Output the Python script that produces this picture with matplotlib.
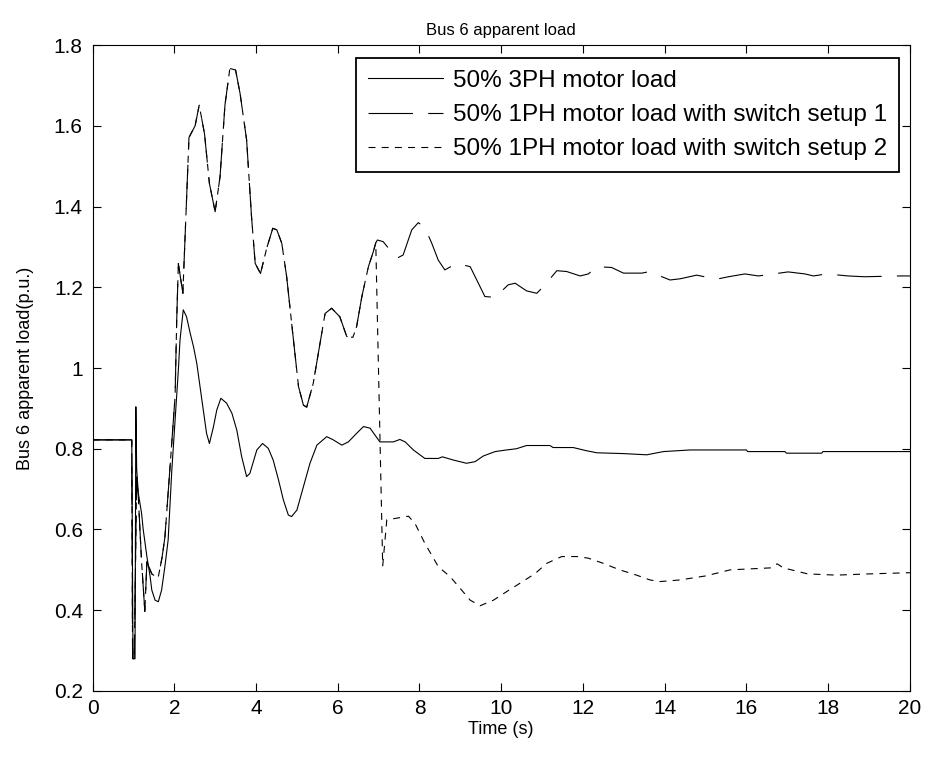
import matplotlib
matplotlib.use("Agg")
import matplotlib.pyplot as plt

# 50% 3PH motor load (solid)
t_3ph = [0, 0.96, 0.99, 1.04, 1.06, 1.08, 1.12, 1.20, 1.24, 1.33, 1.41, 1.45, 1.53, 1.61,
         1.69, 1.77, 1.85, 1.94, 2.10, 2.14, 2.22, 2.30, 2.39, 2.47, 2.55, 2.63, 2.71,
         2.79, 2.86, 2.96, 3.04, 3.14, 3.28, 3.41, 3.53, 3.65, 3.77, 3.85, 4.02, 4.16,
         4.30, 4.42, 4.55, 4.67, 4.79, 4.87, 5.00, 5.16, 5.32, 5.49, 5.73, 5.89, 6.10,
         6.26, 6.46, 6.63, 6.79, 7.03, 7.36, 7.52, 7.65, 7.85, 8.13, 8.46, 8.56, 8.83,
         9.15, 9.36, 9.56, 9.85, 10.13, 10.37, 10.62, 11.19, 11.27, 11.76, 12.09, 12.34,
         12.99, 13.56, 13.97, 14.62, 16.00, 16.03, 16.94, 16.98, 17.84, 17.87, 20]
v_3ph = [0.822, 0.822, 0.28, 0.28, 0.904, 0.75, 0.69, 0.64, 0.60, 0.533, 0.483, 0.45,
         0.425, 0.421, 0.45, 0.508, 0.574, 0.747, 0.995, 1.069, 1.144, 1.127, 1.086,
         1.053, 1.012, 0.954, 0.896, 0.838, 0.813, 0.855, 0.896, 0.925, 0.913, 0.888,
         0.846, 0.780, 0.731, 0.739, 0.797, 0.813, 0.801, 0.772, 0.723, 0.673, 0.636,
         0.632, 0.648, 0.706, 0.764, 0.809, 0.830, 0.822, 0.809, 0.817, 0.838, 0.855,
         0.851, 0.817, 0.817, 0.823, 0.817, 0.797, 0.776, 0.776, 0.780, 0.772, 0.764,
         0.768, 0.782, 0.793, 0.797, 0.800, 0.808, 0.808, 0.803, 0.803, 0.795, 0.790,
         0.788, 0.785, 0.793, 0.797, 0.797, 0.793, 0.793, 0.789, 0.789, 0.793, 0.793]

# both 1PH cases are identical until the switch acts near t = 6.9 s
t_common = [0, 0.96, 0.98, 1.02, 1.08, 1.12, 1.20, 1.28, 1.33, 1.37, 1.45, 1.55, 1.61,
            1.70, 1.77, 1.90, 2.02, 2.06, 2.10, 2.21, 2.36, 2.51, 2.61, 2.74, 2.86, 3.00,
            3.12, 3.24, 3.36, 3.50, 3.61, 3.77, 3.89, 3.98, 4.11, 4.26, 4.41, 4.51, 4.63,
            4.75, 4.89, 5.04, 5.16, 5.24, 5.40, 5.69, 5.85, 6.05, 6.22, 6.37, 6.46, 6.59,
            6.75, 6.87, 6.93]
v_common = [0.822, 0.822, 0.28, 0.28, 0.73, 0.68, 0.52, 0.397, 0.52, 0.51, 0.49, 0.483,
            0.483, 0.53, 0.58, 0.76, 0.93, 1.12, 1.259, 1.185, 1.571, 1.60, 1.651, 1.58,
            1.457, 1.387, 1.474, 1.651, 1.742, 1.738, 1.680, 1.565, 1.375, 1.259, 1.234,
            1.296, 1.346, 1.342, 1.309, 1.226, 1.094, 0.954, 0.908, 0.903, 0.962, 1.135,
            1.148, 1.127, 1.078, 1.076, 1.102, 1.177, 1.251, 1.288, 1.31]

# setup 1 after the switch instant
t_s1_tail = [6.97, 7.11, 7.28, 7.45, 7.60, 7.81, 7.97, 8.13, 8.30, 8.46, 8.62, 8.91, 9.24,
             9.44, 9.60, 9.85, 10.17, 10.34, 10.62, 10.87, 11.07, 11.36, 11.60, 11.93,
             12.13, 12.34, 12.70, 12.99, 13.44, 13.64, 13.76, 14.13, 14.38, 14.78, 15.27,
             15.56, 15.96, 16.29, 16.66, 17.02, 17.43, 17.64, 17.96, 18.49, 18.89, 19.75, 20]
v_s1_tail = [1.317, 1.313, 1.292, 1.272, 1.28, 1.342, 1.360, 1.348, 1.309, 1.267, 1.243,
             1.259, 1.251, 1.210, 1.177, 1.175, 1.206, 1.210, 1.191, 1.185, 1.206, 1.241,
             1.239, 1.228, 1.233, 1.251, 1.249, 1.235, 1.235, 1.239, 1.233, 1.218, 1.221,
             1.230, 1.220, 1.226, 1.233, 1.228, 1.233, 1.238, 1.233, 1.228, 1.233, 1.228,
             1.226, 1.228, 1.228]

# setup 2 after the switch instant
t_s2_tail = [7.10, 7.20, 7.44, 7.73, 7.89, 8.13, 8.46, 8.75, 9.03, 9.24, 9.48, 9.81, 10.13,
             10.46, 10.83, 11.11, 11.48, 11.85, 12.13, 12.50, 12.90, 13.31, 13.64, 13.88,
             14.37, 15.00, 15.60, 16.20, 16.60, 16.75, 16.90, 17.50, 18.20, 19.00, 20]
v_s2_tail = [0.51, 0.624, 0.628, 0.633, 0.615, 0.566, 0.508, 0.483, 0.450, 0.425, 0.411,
             0.425, 0.446, 0.467, 0.491, 0.516, 0.533, 0.533, 0.529, 0.516, 0.500, 0.487,
             0.475, 0.471, 0.475, 0.485, 0.500, 0.503, 0.505, 0.515, 0.505, 0.490, 0.487,
             0.490, 0.493]

labels = ["50% 3PH motor load",
          "50% 1PH motor load with switch setup 1",
          "50% 1PH motor load with switch setup 2"]

plt.rcParams["font.family"] = ["Liberation Sans", "DejaVu Sans"]
plt.rcParams["lines.scale_dashes"] = False

fig = plt.figure(figsize=(9.29, 7.59), dpi=100)
ax = fig.add_axes([0.0996, 0.0896, 0.8799, 0.8511])

ax.plot(t_3ph, v_3ph, color="black", lw=0.8, label=labels[0])
ax.plot(t_common + t_s1_tail, v_common + v_s1_tail, color="black", lw=0.8,
        dashes=(32, 11), label=labels[1])
ax.plot(t_common + t_s2_tail, v_common + v_s2_tail, color="black", lw=0.8,
        dashes=(5, 4.5), label=labels[2])

ax.set_xlim(0, 20)
ax.set_ylim(0.2, 1.8)
ax.set_xticks(range(0, 21, 2))
ax.set_yticks([0.2, 0.4, 0.6, 0.8, 1.0, 1.2, 1.4, 1.6, 1.8])
ax.set_yticklabels(["0.2", "0.4", "0.6", "0.8", "1", "1.2", "1.4", "1.6", "1.8"])
ax.tick_params(direction="in", length=6, width=0.8, top=True, right=True,
               labelsize=15)
ax.tick_params(axis="x", pad=6)
ax.tick_params(axis="y", pad=7)
for s in ax.spines.values():
    s.set_linewidth(0.8)

ax.set_xlabel("Time (s)", fontsize=13, labelpad=2)
ax.set_ylabel("Bus 6 apparent load(p.u.)", fontsize=13, labelpad=14)
ax.set_title("Bus 6 apparent load", fontsize=12, pad=7)

leg = ax.legend(loc="upper right", bbox_to_anchor=(0.9865, 0.9794), fontsize=17.5,
                handlelength=3.1, handletextpad=0.4, labelspacing=0.5,
                borderpad=0.48, borderaxespad=0, fancybox=False, framealpha=1)
leg.get_frame().set_edgecolor("black")
leg.get_frame().set_linewidth(1.3)

fig.savefig("out.png", dpi=100)
